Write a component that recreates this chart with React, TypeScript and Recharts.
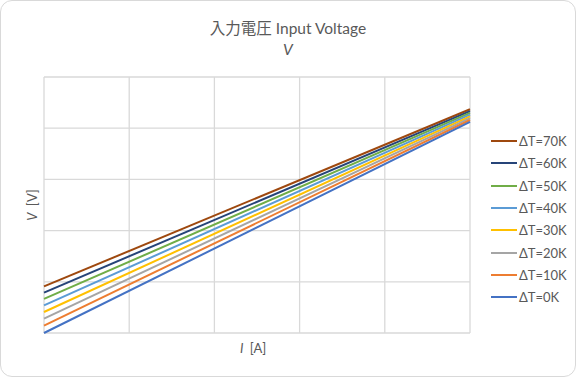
import React from "react";
import { LineChart, Line, XAxis, YAxis, CartesianGrid } from "recharts";

const current = [0, 5];
const seriesNames = ["ΔT=70K", "ΔT=60K", "ΔT=50K", "ΔT=40K", "ΔT=30K", "ΔT=20K", "ΔT=10K", "ΔT=0K"];
const dt70 = [0.91, 4.37];
const dt60 = [0.79, 4.335];
const dt50 = [0.665, 4.3];
const dt40 = [0.54, 4.265];
const dt30 = [0.41, 4.23];
const dt20 = [0.28, 4.195];
const dt10 = [0.145, 4.16];
const dt0 = [0, 4.125];
const colors = ["#9e480e", "#264478", "#70ad47", "#5b9bd5", "#ffc000", "#a5a5a5", "#ed7d31", "#4472c4"];
const axisTicks = [0, 1, 2, 3, 4, 5];

const allSeries = [dt70, dt60, dt50, dt40, dt30, dt20, dt10, dt0];
const data = current.map((i, idx) => {
  const row: Record<string, number> = { i };
  seriesNames.forEach((name, s) => {
    row[name] = allSeries[s][idx];
  });
  return row;
});

const font = "Lato, 'Noto Sans CJK JP', sans-serif";
const textColor = "#595959";

const noTick = () => <g />;

export default function App() {
  return (
    <div style={{ position: "relative", width: 576, height: 377, background: "#fff" }}>
      <style>{`body{margin:0}`}</style>
      <div
        style={{
          position: "absolute",
          inset: 0,
          border: "1px solid #d9d9d9",
          borderRadius: 12,
          boxSizing: "border-box",
        }}
      />
      <div style={{ position: "absolute", top: 16, width: "100%", textAlign: "center", fontFamily: font, fontSize: 15.5, color: textColor }}>
        入力電圧 Input Voltage
      </div>
      <div style={{ position: "absolute", top: 40, width: "100%", textAlign: "center", fontFamily: font, fontSize: 15.5, fontStyle: "italic", color: textColor }}>
        V
      </div>
      <div
        style={{
          position: "absolute",
          left: 32,
          top: 205,
          transform: "translate(-50%, -50%) rotate(-90deg)",
          fontFamily: font,
          fontSize: 13,
          color: textColor,
          whiteSpace: "nowrap",
        }}
      >
        <i>V</i>{"\u2002"}[V]
      </div>
      <div
        style={{
          position: "absolute",
          left: 253,
          top: 348,
          transform: "translate(-50%, -50%)",
          fontFamily: font,
          fontSize: 13,
          color: textColor,
          whiteSpace: "nowrap",
        }}
      >
        <i>I</i>{"\u2002"}[A]
      </div>
      <LineChart
        width={576}
        height={377}
        data={data}
        margin={{ top: 77, left: 44, right: 106, bottom: 44 }}
        style={{ position: "absolute", left: 0, top: 0 }}
      >
        <CartesianGrid stroke="#d9d9d9" strokeWidth={1.3} />
        <XAxis
          dataKey="i"
          type="number"
          domain={[0, 5]}
          ticks={axisTicks}
          tick={noTick}
          tickLine={false}
          axisLine={false}
          height={0}
        />
        <YAxis
          type="number"
          domain={[0, 5]}
          ticks={axisTicks}
          tick={noTick}
          tickLine={false}
          axisLine={false}
          width={0}
        />
        {seriesNames.map((name, s) => (
          <Line
            key={name}
            dataKey={name}
            stroke={colors[s]}
            strokeWidth={2}
            dot={false}
            isAnimationActive={false}
            type="linear"
          />
        ))}
      </LineChart>
      <div style={{ position: "absolute", left: 491, top: 130, fontFamily: font, fontSize: 13, color: textColor }}>
        {seriesNames.map((name, s) => (
          <div key={name} style={{ display: "flex", alignItems: "center", height: 22.3 }}>
            <span style={{ display: "inline-block", width: 26, height: 2, background: colors[s], marginRight: 2 }} />
            <span>{name}</span>
          </div>
        ))}
      </div>
    </div>
  );
}
